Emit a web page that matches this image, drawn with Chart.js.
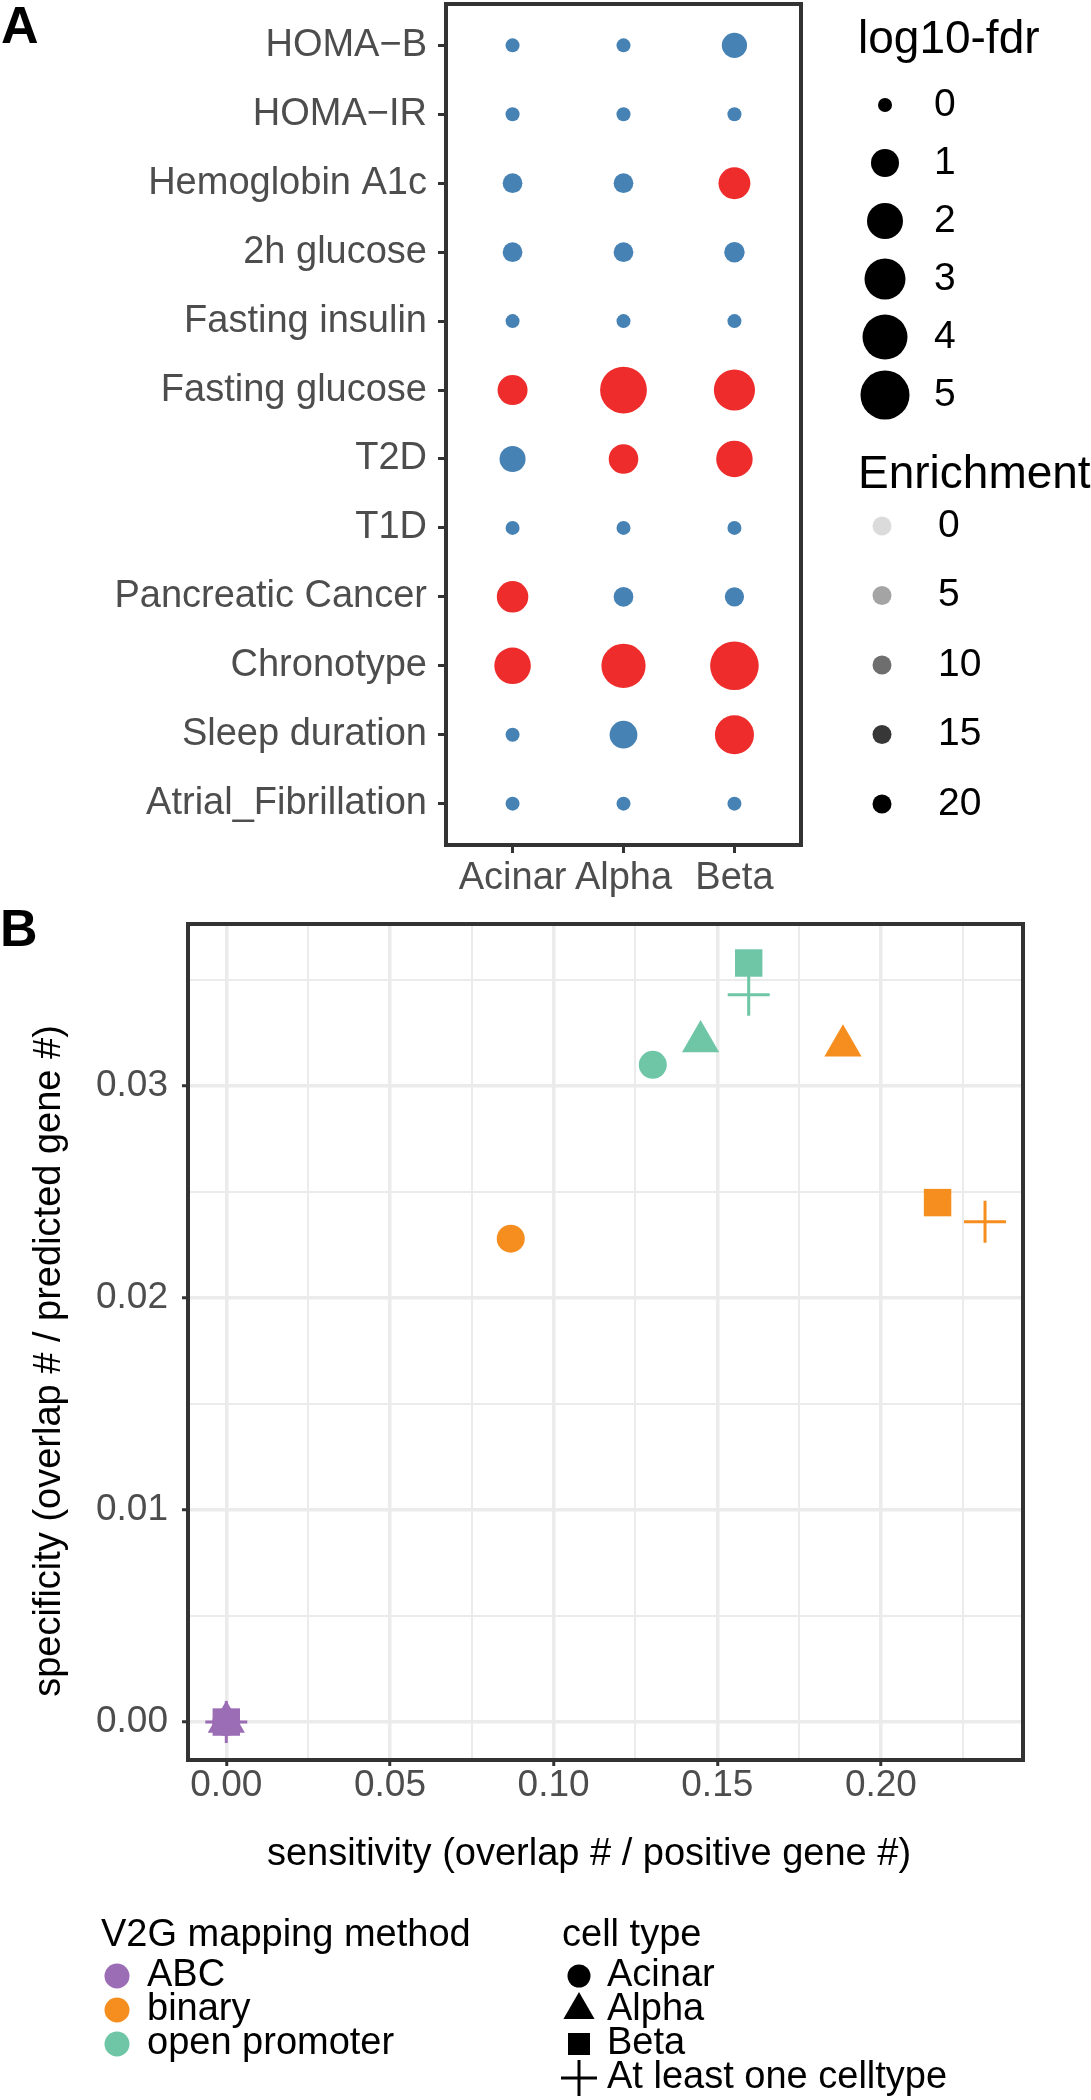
<!DOCTYPE html>
<html>
<head>
<meta charset="utf-8">
<script src="https://cdn.jsdelivr.net/npm/chart.js@4.4.1/dist/chart.umd.min.js"></script>
<style>
  html, body { margin: 0; padding: 0; background: #fff; }
  #page { position: relative; width: 1091px; height: 2100px; background: #fff; }
  canvas { position: absolute; left: 0; }
  #dotplot { top: 0; }
  #scatter { top: 900px; }
</style>
</head>
<body>
<div id="page">
  <canvas id="dotplot" width="1091" height="900"></canvas>
  <canvas id="scatter" width="1091" height="1200"></canvas>
</div>
<script>
// ---- panel A data: GWAS trait enrichment per cell type ----
const traits = ["HOMA\u2212B", "HOMA\u2212IR", "Hemoglobin A1c", "2h glucose", "Fasting insulin",
  "Fasting glucose", "T2D", "T1D", "Pancreatic Cancer", "Chronotype", "Sleep duration", "Atrial_Fibrillation"];
const cellTypes = ["Acinar", "Alpha", "Beta"];

// -log10 fdr, one value per trait (same order as traits)
const fdrAcinar = [0, 0, 0.33, 0.33, 0, 1.23, 0.82, 0, 1.41, 2.1, 0, 0];
const fdrAlpha  = [0, 0, 0.33, 0.33, 0, 4.44, 1.18, 0, 0.33, 3.8, 0.98, 0];
const fdrBeta   = [0.75, 0, 1.45, 0.38, 0, 3.04, 2.09, 0, 0.3, 4.9, 2.6, 0];

// 1 = significant (red), 0 = not (blue)
const sigAcinar = [0, 0, 0, 0, 0, 1, 0, 0, 1, 1, 0, 0];
const sigAlpha  = [0, 0, 0, 0, 0, 1, 1, 0, 0, 1, 0, 0];
const sigBeta   = [0, 0, 1, 0, 0, 1, 1, 0, 0, 1, 1, 0];

const fdrBreaks = [0, 1, 2, 3, 4, 5];
const enrichBreaks = [0, 5, 10, 15, 20];

// ---- panel B data: V2G mapping sensitivity / specificity ----
const methods = ["ABC", "binary", "open promoter"];
const cellTypesB = ["Acinar", "Alpha", "Beta", "At least one celltype"];
const sensABC    = [0, 0, 0, 0];
const specABC    = [0, 0, 0, 0];
const sensBinary = [0.0869, 0.1884, 0.2173, 0.2318];
const specBinary = [0.0228, 0.0319, 0.0245, 0.0236];
const sensOpen   = [0.1303, 0.1449, 0.1596, 0.1596];
const specOpen   = [0.0310, 0.0321, 0.0358, 0.0343];

const xMajorB = [0, 0.05, 0.10, 0.15, 0.20];
const yMajorB = [0, 0.01, 0.02, 0.03];

// ---- styles ----
const FONT = '"Liberation Sans", Arial, Helvetica, sans-serif';
const RED = "#EE2C2C";
const BLUE = "#4682B4";
const methodColors = ["#9B6DB5", "#F68E1F", "#6FC6A7"];
const shapeStyles = ["circle", "triangle", "rect", "cross"];
const shapeRadii = [14, 21.5, 19.4, 21];
const shapeBorders = [0, 0, 0, 3];
const BOX = "#333333";
const AXIS_TEXT = "#4D4D4D";

Chart.defaults.font.family = FONT;
Chart.defaults.animation = false;

// area-interpolated radius for the size legend breaks
const sizeRadii = [7, 14, 18, 20.5, 22.5, 24.5];
function fdrRadius(v) {
  const i = Math.min(Math.max(Math.floor(v), 0), sizeRadii.length - 2);
  const t = v - i;
  const a0 = sizeRadii[i] ** 2, a1 = sizeRadii[i + 1] ** 2;
  return Math.sqrt(a0 + (a1 - a0) * t);
}

function isMultiple(v, step) {
  return Math.abs(v / step - Math.round(v / step)) < 1e-6;
}

// fixed axis sizes, no extra label padding so the panel sits where we want it
function fixWidth(w) {
  return s => { s.width = w; s.paddingTop = 0; s.paddingBottom = 0; };
}
function fixHeight(hgt) {
  return s => { s.height = hgt; s.paddingLeft = 0; s.paddingRight = 0; };
}

// frame around the plotting panel + panel letter
const panelBox = {
  id: "panelBox",
  afterDatasetsDraw(chart, args, opts) {
    const { ctx, chartArea: a } = chart;
    ctx.save();
    ctx.strokeStyle = BOX;
    ctx.lineWidth = 4;
    ctx.strokeRect(a.left, a.top, a.right - a.left, a.bottom - a.top);
    ctx.fillStyle = "#000";
    ctx.font = "bold 52px " + FONT;
    ctx.textAlign = "left";
    ctx.textBaseline = "alphabetic";
    ctx.fillText(opts.letter, opts.lx, opts.ly);
    ctx.restore();
  }
};

// ggplot-style legends for panel A
const legendA = {
  id: "legendA",
  afterDraw(chart) {
    const ctx = chart.ctx;
    ctx.save();
    ctx.fillStyle = "#000";
    ctx.textAlign = "left";
    ctx.textBaseline = "alphabetic";
    ctx.font = "46px " + FONT;
    ctx.fillText("log10-fdr", 858, 53);
    ctx.font = "39px " + FONT;
    ctx.textBaseline = "middle";
    fdrBreaks.forEach((v, i) => {
      const y = 105 + i * 58;
      ctx.beginPath();
      ctx.arc(885, y, fdrRadius(v), 0, Math.PI * 2);
      ctx.fill();
      ctx.fillText(String(v), 934, y);
    });

    ctx.textBaseline = "alphabetic";
    ctx.font = "46px " + FONT;
    ctx.fillText("Enrichment", 858, 488);
    ctx.font = "39px " + FONT;
    ctx.textBaseline = "middle";
    enrichBreaks.forEach((v, i) => {
      const y = 526 + i * 69.5;
      const alpha = 0.14 + 0.86 * v / 20;
      ctx.fillStyle = "rgba(0,0,0," + alpha + ")";
      ctx.beginPath();
      ctx.arc(882, y, 9.5, 0, Math.PI * 2);
      ctx.fill();
      ctx.fillStyle = "#000";
      ctx.fillText(String(v), 938, y);
    });
    ctx.restore();
  }
};

// axis titles and legends for panel B
const decorB = {
  id: "decorB",
  afterDraw(chart) {
    const ctx = chart.ctx;
    const h = Chart.helpers;
    ctx.save();
    ctx.fillStyle = "#000";
    ctx.font = "38px " + FONT;
    ctx.textAlign = "center";
    ctx.textBaseline = "alphabetic";
    ctx.fillText("sensitivity (overlap # / positive gene #)", 589, 965);

    ctx.save();
    ctx.translate(60, 461);
    ctx.rotate(-Math.PI / 2);
    ctx.fillText("specificity (overlap # / predicted gene #)", 0, 0);
    ctx.restore();

    // V2G mapping method legend
    ctx.textAlign = "left";
    ctx.fillText("V2G mapping method", 101, 1046);
    ctx.textBaseline = "middle";
    methods.forEach((m, i) => {
      const y = 1076 + i * 34;
      ctx.fillStyle = methodColors[i];
      h.drawPoint(ctx, { pointStyle: "circle", radius: 12.5, rotation: 0, borderWidth: 0 }, 117, y);
      ctx.fillStyle = "#000";
      ctx.fillText(m, 147, y);
    });

    // cell type legend
    ctx.textBaseline = "alphabetic";
    ctx.fillText("cell type", 562, 1046);
    ctx.textBaseline = "middle";
    const keyR = [11.5, 18, 15.6, 18];
    cellTypesB.forEach((c, i) => {
      const y = 1076 + i * 34;
      ctx.fillStyle = "#000";
      ctx.strokeStyle = "#000";
      ctx.lineWidth = 3;
      h.drawPoint(ctx, { pointStyle: shapeStyles[i], radius: keyR[i], rotation: 0, borderWidth: shapeBorders[i] }, 579, y);
      ctx.fillText(c, 607, y);
    });
    ctx.restore();
  }
};

// ---- chart A: dot plot ----
function dotSet(values, sig, col) {
  return {
    label: cellTypes[col],
    data: traits.map((t, i) => ({ x: col, y: i })),
    pointRadius: values.map(fdrRadius),
    pointHoverRadius: values.map(fdrRadius),
    pointBackgroundColor: sig.map(s => (s ? RED : BLUE)),
    pointBorderWidth: 0,
    pointStyle: "circle"
  };
}

new Chart(document.getElementById("dotplot"), {
  type: "scatter",
  data: {
    datasets: [
      dotSet(fdrAcinar, sigAcinar, 0),
      dotSet(fdrAlpha, sigAlpha, 1),
      dotSet(fdrBeta, sigBeta, 2)
    ]
  },
  options: {
    responsive: false,
    devicePixelRatio: 1,
    layout: { autoPadding: false, padding: { top: 4, right: 290, bottom: 0, left: 0 } },
    plugins: {
      legend: { display: false },
      tooltip: { enabled: false },
      panelBox: { letter: "A", lx: 1, ly: 43 }
    },
    scales: {
      x: {
        type: "linear",
        min: -0.6,
        max: 2.6,
        afterBuildTicks: s => { s.ticks = cellTypes.map((c, i) => ({ value: i })); },
        afterFit: fixHeight(55),
        border: { display: false },
        grid: { drawOnChartArea: false, drawTicks: true, tickLength: 8, tickColor: BOX, tickWidth: 3 },
        ticks: {
          autoSkip: false,
          maxRotation: 0,
          padding: 7,
          color: AXIS_TEXT,
          font: { size: 38, lineHeight: 1 },
          callback: v => cellTypes[v]
        }
      },
      y: {
        type: "linear",
        reverse: true,
        min: -0.6,
        max: 11.6,
        afterBuildTicks: s => { s.ticks = traits.map((t, i) => ({ value: i })); },
        afterFit: fixWidth(446),
        border: { display: false },
        grid: { drawOnChartArea: false, drawTicks: true, tickLength: 8, tickColor: BOX, tickWidth: 3 },
        ticks: {
          autoSkip: false,
          padding: 11,
          color: AXIS_TEXT,
          font: { size: 38, lineHeight: 1 },
          callback: v => traits[v]
        }
      }
    }
  },
  plugins: [panelBox, legendA]
});

// ---- chart B: sensitivity vs specificity ----
function methodSet(i, sens, spec) {
  return {
    label: methods[i],
    data: sens.map((x, k) => ({ x: x, y: spec[k] })),
    pointStyle: shapeStyles,
    pointRadius: shapeRadii,
    pointHoverRadius: shapeRadii,
    pointBorderWidth: shapeBorders,
    pointBackgroundColor: methodColors[i],
    pointBorderColor: methodColors[i]
  };
}

const xTicksB = [];
for (let k = 0; k <= 9; k++) xTicksB.push(k * 0.025);
const yTicksB = [];
for (let k = 0; k <= 7; k++) yTicksB.push(k * 0.005);

new Chart(document.getElementById("scatter"), {
  type: "scatter",
  data: {
    datasets: [
      methodSet(0, sensABC, specABC),
      methodSet(1, sensBinary, specBinary),
      methodSet(2, sensOpen, specOpen)
    ]
  },
  options: {
    responsive: false,
    devicePixelRatio: 1,
    layout: { autoPadding: false, padding: { top: 24, right: 68, bottom: 0, left: 0 } },
    plugins: {
      legend: { display: false },
      tooltip: { enabled: false },
      panelBox: { letter: "B", lx: 0, ly: 46 }
    },
    scales: {
      x: {
        type: "linear",
        min: -0.0117,
        max: 0.2434,
        afterBuildTicks: s => { s.ticks = xTicksB.map(v => ({ value: v })); },
        afterFit: fixHeight(340),
        border: { display: false },
        grid: {
          color: "#EBEBEB",
          lineWidth: c => (isMultiple(c.tick.value, 0.05) ? 3.5 : 2),
          tickColor: c => (isMultiple(c.tick.value, 0.05) ? BOX : "rgba(0,0,0,0)"),
          tickWidth: 3,
          tickLength: 6
        },
        ticks: {
          autoSkip: false,
          maxRotation: 0,
          padding: 1,
          color: AXIS_TEXT,
          font: { size: 37, lineHeight: 1 },
          callback: v => {
            const i = xMajorB.findIndex(m => Math.abs(m - v) < 1e-6);
            return i >= 0 ? xMajorB[i].toFixed(2) : "";
          }
        }
      },
      y: {
        type: "linear",
        min: -0.00179,
        max: 0.03764,
        afterBuildTicks: s => { s.ticks = yTicksB.map(v => ({ value: v })); },
        afterFit: fixWidth(188),
        border: { display: false },
        grid: {
          color: "#EBEBEB",
          lineWidth: c => (isMultiple(c.tick.value, 0.01) ? 3.5 : 2),
          tickColor: c => (isMultiple(c.tick.value, 0.01) ? BOX : "rgba(0,0,0,0)"),
          tickWidth: 3,
          tickLength: 6
        },
        ticks: {
          autoSkip: false,
          padding: 14,
          color: AXIS_TEXT,
          font: { size: 37, lineHeight: 1 },
          callback: v => {
            const i = yMajorB.findIndex(m => Math.abs(m - v) < 1e-6);
            return i >= 0 ? yMajorB[i].toFixed(2) : "";
          }
        }
      }
    }
  },
  plugins: [panelBox, decorB]
});
</script>
</body>
</html>
